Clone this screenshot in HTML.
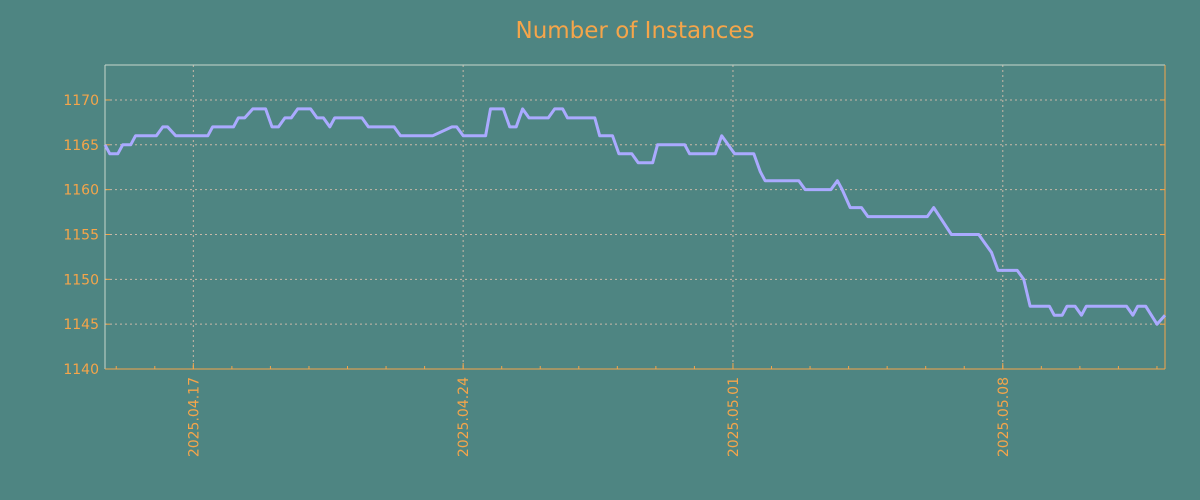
<!DOCTYPE html>
<html><head><meta charset="utf-8"><style>
html,body{margin:0;padding:0;background:#4e8582;}
svg{display:block;font-family:"DejaVu Sans","Liberation Sans",sans-serif;}
</style></head><body>
<svg id="chart" width="1200" height="500" viewBox="0 0 1200 500">
<rect width="1200" height="500" fill="#4e8582"/>
<text x="635" y="38" text-anchor="middle" font-size="23" fill="#f5a54a">Number of Instances</text>
<g id="grid"></g><g id="axes"></g><g id="series"></g>
</svg>
<script>
// hours since 2025-04-17 00:00
const hours = [-55,-52,-47,-44,-39,-36,-23,-19,-16,-11,9,12,25,28,32,37,45,49,53,57,61,65,73,77,81,85,88,105,109,125,129,149,161,164,168,182,185,193,197,201,205,209,221,225,230,233,250,253,261,265,273,277,286,289,306,309,325,329,337,349,353,356,377,381,397,401,404,409,416,420,457,461,472,489,493,497,501,513,517,521,533,536,541,544,549,553,556,581,585,588,593,600,605];
const instances = [1165,1164,1164,1165,1165,1166,1166,1167,1167,1166,1166,1167,1167,1168,1168,1169,1169,1167,1167,1168,1168,1169,1169,1168,1168,1167,1168,1168,1167,1167,1166,1166,1167,1167,1166,1166,1169,1169,1167,1167,1169,1168,1168,1169,1169,1168,1168,1166,1166,1164,1164,1163,1163,1165,1165,1164,1164,1166,1164,1164,1162,1161,1161,1160,1160,1161,1160,1158,1158,1157,1157,1158,1155,1155,1154,1153,1151,1151,1150,1147,1147,1146,1146,1147,1147,1146,1147,1147,1146,1147,1147,1145,1146];
const yTicks = [1140,1145,1150,1155,1160,1165,1170];
const xTickHours = [0,168,336,504];
const xTickLabels = ["2025.04.17","2025.04.24","2025.05.01","2025.05.08"];
const xDomain = [-55,605];
const yDomain = [1140,1173.9];

const L=105,R=1165,T=65,B=369;
const NS="http://www.w3.org/2000/svg";
const xs=h=>L+(h-xDomain[0])/(xDomain[1]-xDomain[0])*(R-L);
const ys=v=>B-(v-yDomain[0])/(yDomain[1]-yDomain[0])*(B-T);
function mk(tag,attrs,parent){const e=document.createElementNS(NS,tag);for(const k in attrs)e.setAttribute(k,attrs[k]);parent.appendChild(e);return e;}
const gridG=document.getElementById('grid'),axesG=document.getElementById('axes'),seriesG=document.getElementById('series');
const OR="#f5a54a";
yTicks.forEach(v=>{
  const y=ys(v);
  if(v>yDomain[0]){const g=mk('line',{x1:L,x2:R,y1:y,y2:y,stroke:'#c8b8a8','stroke-dasharray':'2,3','stroke-width':1},gridG);
  
  }
  const t=mk('line',{x1:L,x2:L+5,y1:y,y2:y,stroke:OR},axesG);
  
  
  const t2=mk('line',{x1:R-5,x2:R,y1:y,y2:y,stroke:OR},axesG);
  
  
  const lb=mk('text',{x:L-6,y:y+5,'text-anchor':'end','font-size':14,fill:OR},axesG);
  lb.textContent=v;
  
  
});
for(let h=-48;h<=xDomain[1];h+=24){
  const x=xs(h);
  const m=mk('line',{x1:x,x2:x,y1:B,y2:B-3,stroke:OR},axesG);
  
  
}
xTickHours.forEach((h,i)=>{
  const x=xs(h);
  const g=mk('line',{x1:x,x2:x,y1:T,y2:B,stroke:'#c8b8a8','stroke-dasharray':'2,3'},gridG);
  
  
  const t=mk('line',{x1:x,x2:x,y1:B,y2:B-6,stroke:OR},axesG);
  
  
  const lb=mk('text',{x:0,y:0,'font-size':14,fill:OR,'text-anchor':'end',transform:`translate(${x+5},${B+8}) rotate(-90)`},axesG);
  lb.textContent=xTickLabels[i];
  
  
});
const spTop=mk('line',{x1:L,x2:R,y1:T,y2:T,stroke:'#c8d8cc'},axesG);


const spLeft=mk('line',{x1:L,x2:L,y1:T,y2:B,stroke:'#c8d8cc'},axesG);


const spRight=mk('line',{x1:R,x2:R,y1:T,y2:B,stroke:OR},axesG);


const spBottom=mk('line',{x1:L,x2:R,y1:B,y2:B,stroke:OR},axesG);


const pts=hours.map((h,i)=>xs(h).toFixed(1)+','+ys(instances[i]).toFixed(1)).join(' ');
const pl=mk('polyline',{points:pts,fill:'none',stroke:'#aaaaff','stroke-width':3,'stroke-linejoin':'round'},seriesG);


</script>
</body></html>
